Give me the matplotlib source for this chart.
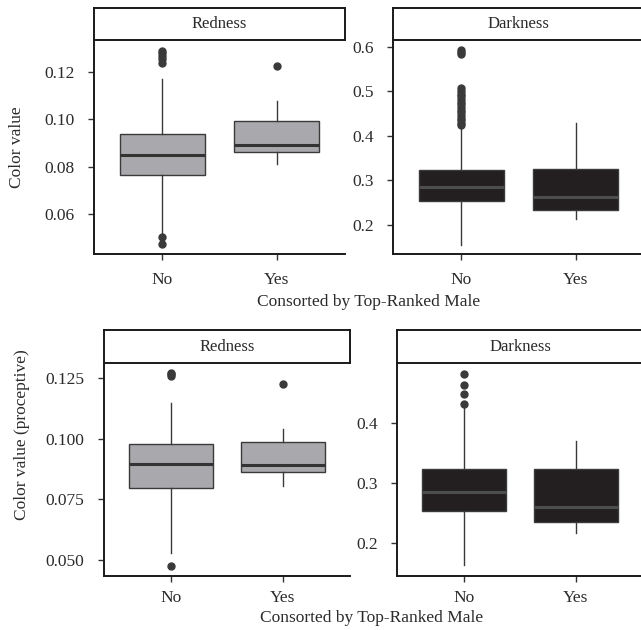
import matplotlib
matplotlib.use("Agg")
import matplotlib.pyplot as plt

plt.rcParams['font.family'] = ['Liberation Serif', 'DejaVu Serif']

groups = ["No", "Yes"]
panels = ["Redness", "Darkness"]

# top row: color value
red_q1 = [0.0766, 0.0863]
red_med = [0.0851, 0.0892]
red_q3 = [0.0936, 0.0993]
red_lo = [0.0519, 0.0809]
red_hi = [0.1170, 0.1078]
red_out = [[0.1291, 0.1280, 0.1268, 0.1255, 0.1238, 0.0502, 0.0472], [0.1227]]

dark_q1 = [0.254, 0.234]
dark_med = [0.285, 0.263]
dark_q3 = [0.323, 0.325]
dark_lo = [0.155, 0.214]
dark_hi = [0.418, 0.429]
dark_out = [[0.593, 0.588, 0.584, 0.507, 0.501, 0.495, 0.489, 0.483, 0.477,
             0.471, 0.465, 0.459, 0.453, 0.447, 0.441, 0.435, 0.429, 0.424], []]

# bottom row: color value (proceptive)
pr_red_q1 = [0.0796, 0.0862]
pr_red_med = [0.0895, 0.0892]
pr_red_q3 = [0.0977, 0.0988]
pr_red_lo = [0.0530, 0.0807]
pr_red_hi = [0.1147, 0.1039]
pr_red_out = [[0.1273, 0.1266, 0.1259, 0.0476], [0.1225]]

pr_dark_q1 = [0.253, 0.235]
pr_dark_med = [0.285, 0.260]
pr_dark_q3 = [0.323, 0.323]
pr_dark_lo = [0.162, 0.216]
pr_dark_hi = [0.424, 0.370]
pr_dark_out = [[0.481, 0.462, 0.447, 0.431], []]

RED_FILL = "#a9a9ad"
DARK_FILL = "#231f20"
LINE = "#3a3a3a"
TXT = "#2b2b2b"


def make_stats(q1, med, q3, lo, hi, out):
    return [dict(q1=q1[i], med=med[i], q3=q3[i], whislo=lo[i], whishi=hi[i],
                 fliers=out[i], label=groups[i]) for i in range(len(groups))]


def draw_panel(fig, rect, strip_h, stats, fill, med_col, ylim, yticks, fmt, xpad):
    ax = fig.add_axes(rect)
    ax.bxp(stats, positions=[1, 2], widths=0.75, patch_artist=True, showcaps=False,
           boxprops=dict(facecolor=fill, edgecolor=LINE, linewidth=1.0),
           medianprops=dict(color=med_col, linewidth=2.2),
           whiskerprops=dict(color=LINE, linewidth=1.0),
           flierprops=dict(marker='o', markerfacecolor=LINE, markeredgecolor=LINE,
                           markersize=5))
    ax.set_xlim(0.4, 2.6)
    ax.set_ylim(*ylim)
    ax.set_yticks(yticks)
    ax.set_yticklabels([fmt.format(v) for v in yticks])
    ax.set_xticks([1, 2])
    ax.set_xticklabels(groups)
    for s in ['top', 'right']:
        ax.spines[s].set_visible(False)
    for s in ['left', 'bottom']:
        ax.spines[s].set_linewidth(1.4)
        ax.spines[s].set_color('#1a1a1a')
    ax.tick_params(axis='y', length=4, width=1.0, color='#333333', pad=10,
                   labelsize=12.5, labelcolor=TXT)
    ax.tick_params(axis='x', length=4, width=1.0, color='#333333', pad=xpad,
                   labelsize=12.5, labelcolor=TXT)
    # facet strip
    sx = fig.add_axes([rect[0], rect[1] + rect[3], rect[2], strip_h])
    sx.set_xticks([])
    sx.set_yticks([])
    for s in sx.spines.values():
        s.set_linewidth(1.4)
        s.set_color('#1a1a1a')
    return ax, sx


fig = plt.figure(figsize=(6.41, 6.30), dpi=100)

rows = [
    (0.5968, 0.3397, 0.0508, [0.1466, 0.6131], 0.3916,
     [make_stats(red_q1, red_med, red_q3, red_lo, red_hi, red_out),
      make_stats(dark_q1, dark_med, dark_q3, dark_lo, dark_hi, dark_out)],
     [(0.043, 0.1336), (0.135, 0.615)],
     [[0.06, 0.08, 0.10, 0.12], [0.2, 0.3, 0.4, 0.5, 0.6]],
     ["{:.2f}", "{:.1f}"], 9),
    (0.0857, 0.3380, 0.0524, [0.1622, 0.6193], 0.3838,
     [make_stats(pr_red_q1, pr_red_med, pr_red_q3, pr_red_lo, pr_red_hi, pr_red_out),
      make_stats(pr_dark_q1, pr_dark_med, pr_dark_q3, pr_dark_lo, pr_dark_hi, pr_dark_out)],
     [(0.0434, 0.1313), (0.1445, 0.499)],
     [[0.050, 0.075, 0.100, 0.125], [0.2, 0.3, 0.4]],
     ["{:.3f}", "{:.1f}"], 6),
]

for bottom, height, strip_h, lefts, width, stats, ylims, yticks, fmts, xpad in rows:
    for j in range(2):
        fill = RED_FILL if j == 0 else DARK_FILL
        med_col = "#333333" if j == 0 else "#4d4d4d"
        ax, sx = draw_panel(fig, [lefts[j], bottom, width, height], strip_h, stats[j],
                            fill, med_col, ylims[j], yticks[j], fmts[j], xpad)
        sx.text(0.5, 0.5, panels[j], ha='center', va='center', fontsize=12,
                color=TXT, transform=sx.transAxes)

fig.text(17 / 641, 1 - 147 / 630, "Color value", rotation=90, ha='center',
         va='center', fontsize=12.5, color=TXT)
fig.text(22 / 641, 1 - 435 / 630, "Color value (proceptive)", rotation=90,
         ha='center', va='center', fontsize=12.5, color=TXT)
fig.text(369 / 641, 1 - 302 / 630, "Consorted by Top-Ranked Male", ha='center',
         va='center', fontsize=12.5, color=TXT)
fig.text(372 / 641, 1 - 618 / 630, "Consorted by Top-Ranked Male", ha='center',
         va='center', fontsize=12.5, color=TXT)

fig.savefig("out.png", dpi=100)
